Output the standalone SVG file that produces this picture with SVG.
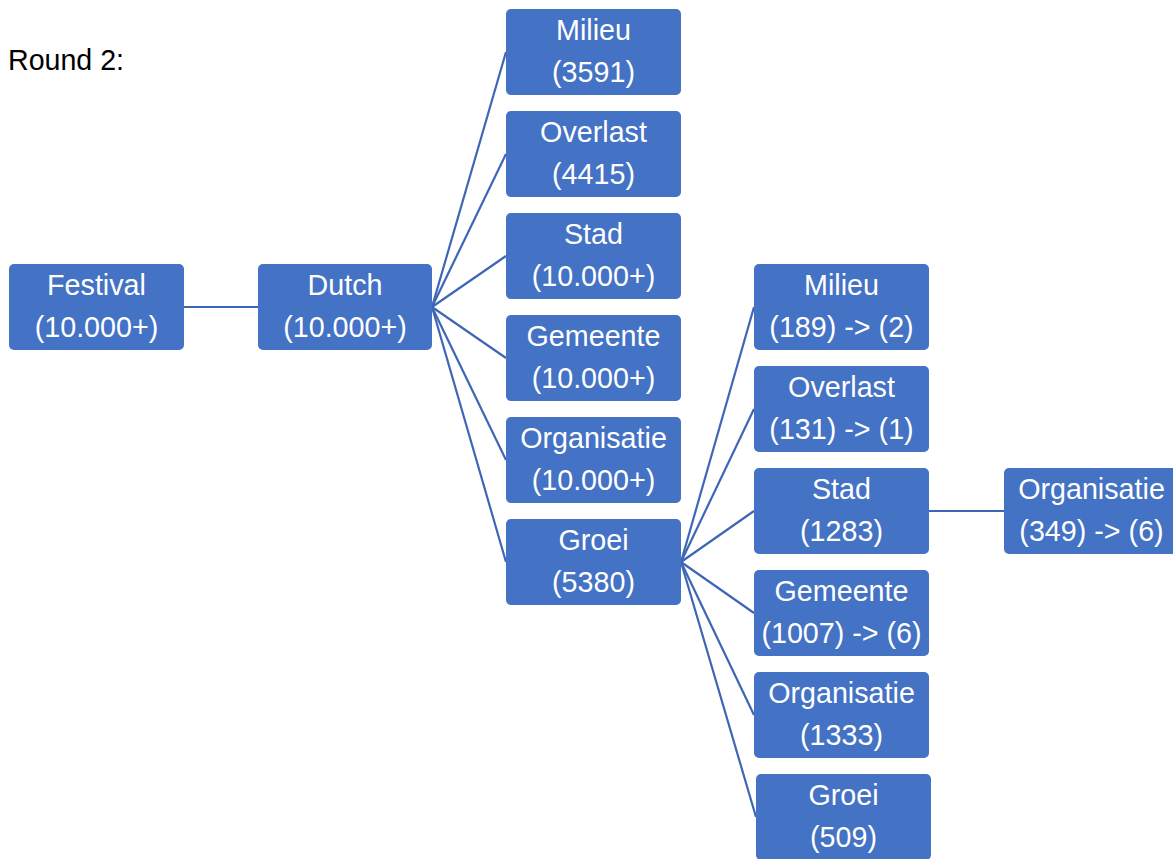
<svg xmlns="http://www.w3.org/2000/svg" width="1173" height="859" viewBox="0 0 1173 859">
<style>
.n rect{fill:#4472C4;stroke:none}
.n text{fill:#fff;font-family:"Liberation Sans",Arial,sans-serif;font-size:28.7px;text-anchor:middle}
.c line{stroke:#3F66B5;stroke-width:2.2;fill:none}
.t{font-family:"Liberation Sans",Arial,sans-serif;font-size:28.6px;fill:#000}
</style>
<rect width="1173" height="859" fill="#fff"/>
<text class="t" x="8" y="70">Round 2:</text>
<g class="c" id="connectors">
<line x1="184" y1="307" x2="258" y2="307"/>
<line x1="432" y1="307" x2="506" y2="52"/>
<line x1="432" y1="307" x2="506" y2="154"/>
<line x1="432" y1="307" x2="506" y2="256"/>
<line x1="432" y1="307" x2="506" y2="358"/>
<line x1="432" y1="307" x2="506" y2="460"/>
<line x1="432" y1="307" x2="506" y2="562"/>
<line x1="681" y1="562" x2="754" y2="307"/>
<line x1="681" y1="562" x2="754" y2="409"/>
<line x1="681" y1="562" x2="754" y2="511"/>
<line x1="681" y1="562" x2="754" y2="613"/>
<line x1="681" y1="562" x2="754" y2="715"/>
<line x1="681" y1="562" x2="756" y2="817"/>
<line x1="929" y1="511" x2="1004" y2="511"/>
</g>
<g class="n" id="festival"><rect x="9" y="264" width="175" height="86" rx="5"/><text x="96.5" y="295">Festival</text><text x="96.5" y="337">(10.000+)</text></g>
<g class="n" id="dutch"><rect x="258" y="264" width="174" height="86" rx="5"/><text x="345" y="295">Dutch</text><text x="345" y="337">(10.000+)</text></g>
<g class="n" id="milieu1"><rect x="506" y="9" width="175" height="86" rx="5"/><text x="593.5" y="40">Milieu</text><text x="593.5" y="82">(3591)</text></g>
<g class="n" id="overlast1"><rect x="506" y="111" width="175" height="86" rx="5"/><text x="593.5" y="142">Overlast</text><text x="593.5" y="184">(4415)</text></g>
<g class="n" id="stad1"><rect x="506" y="213" width="175" height="86" rx="5"/><text x="593.5" y="244">Stad</text><text x="593.5" y="286">(10.000+)</text></g>
<g class="n" id="gemeente1"><rect x="506" y="315" width="175" height="86" rx="5"/><text x="593.5" y="346">Gemeente</text><text x="593.5" y="388">(10.000+)</text></g>
<g class="n" id="organisatie1"><rect x="506" y="417" width="175" height="86" rx="5"/><text x="593.5" y="448">Organisatie</text><text x="593.5" y="490">(10.000+)</text></g>
<g class="n" id="groei1"><rect x="506" y="519" width="175" height="86" rx="5"/><text x="593.5" y="550">Groei</text><text x="593.5" y="592">(5380)</text></g>
<g class="n" id="milieu2"><rect x="754" y="264" width="175" height="86" rx="5"/><text x="841.5" y="295">Milieu</text><text x="841.5" y="337">(189) -&gt; (2)</text></g>
<g class="n" id="overlast2"><rect x="754" y="366" width="175" height="86" rx="5"/><text x="841.5" y="397">Overlast</text><text x="841.5" y="439">(131) -&gt; (1)</text></g>
<g class="n" id="stad2"><rect x="754" y="468" width="175" height="86" rx="5"/><text x="841.5" y="499">Stad</text><text x="841.5" y="541">(1283)</text></g>
<g class="n" id="gemeente2"><rect x="754" y="570" width="175" height="86" rx="5"/><text x="841.5" y="601">Gemeente</text><text x="841.5" y="643">(1007) -&gt; (6)</text></g>
<g class="n" id="organisatie2"><rect x="754" y="672" width="175" height="86" rx="5"/><text x="841.5" y="703">Organisatie</text><text x="841.5" y="745">(1333)</text></g>
<g class="n" id="groei2"><rect x="756" y="774" width="175" height="86" rx="5"/><text x="843.5" y="805">Groei</text><text x="843.5" y="847">(509)</text></g>
<g class="n" id="organisatie3"><rect x="1004" y="468" width="175" height="86" rx="5"/><text x="1091.5" y="499">Organisatie</text><text x="1091.5" y="541">(349) -&gt; (6)</text></g>
</svg>
